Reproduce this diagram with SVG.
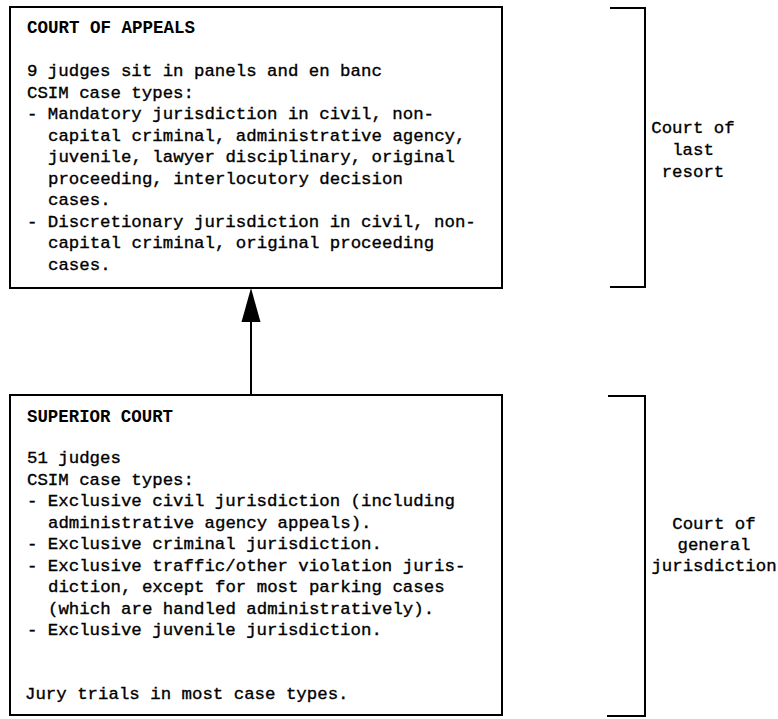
<svg xmlns="http://www.w3.org/2000/svg" width="778" height="719" viewBox="0 0 778 719">
  <style>
    .box { fill: #ffffff; stroke: #000000; stroke-width: 2; }
    .line { fill: none; stroke: #000000; stroke-width: 2; }
    .body { font-family: "Liberation Mono", "DejaVu Sans Mono", monospace; font-size: 17.4px; fill: #000000; stroke: #000000; stroke-width: 0.35; }
    .title { font-family: "Liberation Mono", "DejaVu Sans Mono", monospace; font-size: 19px; font-weight: bold; fill: #000000; }
    .label { font-family: "Liberation Mono", "DejaVu Sans Mono", monospace; font-size: 17.4px; fill: #000000; stroke: #000000; stroke-width: 0.35; text-anchor: middle; }
  </style>
  <rect width="778" height="719" fill="#ffffff"/>

  <!-- appellate court -->
  <g id="court-of-appeals">
    <rect class="box" x="10" y="7" width="492" height="281"/>
    <text class="title" x="27" y="33" textLength="168" lengthAdjust="spacingAndGlyphs">COURT OF APPEALS</text>
    <text class="body" x="27" y="76">9 judges sit in panels and en banc</text>
    <text class="body" x="27" y="97.5">CSIM case types:</text>
    <text class="body" x="27" y="119">- Mandatory jurisdiction in civil, non-</text>
    <text class="body" x="48" y="140.5">capital criminal, administrative agency,</text>
    <text class="body" x="48" y="162">juvenile, lawyer disciplinary, original</text>
    <text class="body" x="48" y="183.5">proceeding, interlocutory decision</text>
    <text class="body" x="48" y="205">cases.</text>
    <text class="body" x="27" y="226.5">- Discretionary jurisdiction in civil, non-</text>
    <text class="body" x="48" y="248">capital criminal, original proceeding</text>
    <text class="body" x="48" y="269.5">cases.</text>
  </g>

  <!-- trial court -->
  <g id="superior-court">
    <rect class="box" x="10" y="395" width="492" height="320"/>
    <text class="title" x="27" y="422" textLength="146" lengthAdjust="spacingAndGlyphs">SUPERIOR COURT</text>
    <text class="body" x="27" y="463">51 judges</text>
    <text class="body" x="27" y="484.5">CSIM case types:</text>
    <text class="body" x="27" y="506">- Exclusive civil jurisdiction (including</text>
    <text class="body" x="48" y="527.5">administrative agency appeals).</text>
    <text class="body" x="27" y="549">- Exclusive criminal jurisdiction.</text>
    <text class="body" x="27" y="570.5">- Exclusive traffic/other violation juris-</text>
    <text class="body" x="48" y="592">diction, except for most parking cases</text>
    <text class="body" x="48" y="613.5">(which are handled administratively).</text>
    <text class="body" x="27" y="635">- Exclusive juvenile jurisdiction.</text>
    <text class="body" x="25" y="699">Jury trials in most case types.</text>
  </g>

  <!-- tier brackets -->
  <g id="last-resort-tier">
    <path class="line" d="M610,8 H645 V287 H610"/>
    <text class="label" x="693" y="133">Court of</text>
    <text class="label" x="693" y="155">last</text>
    <text class="label" x="693" y="177">resort</text>
  </g>
  <g id="general-jurisdiction-tier">
    <path class="line" d="M608,396 H645 V716 H607"/>
    <text class="label" x="714" y="529">Court of</text>
    <text class="label" x="714" y="550">general</text>
    <text class="label" x="714" y="571">jurisdiction</text>
  </g>

  <!-- appeal route -->
  <g id="connectors">
    <line class="line" x1="251" y1="395" x2="251" y2="305"/>
    <path d="M251,288 L260.5,322 L241.5,322 Z" fill="#000000"/>
  </g>
</svg>
